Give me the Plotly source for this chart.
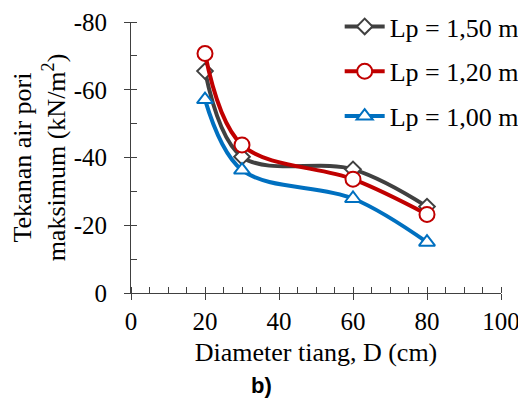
import plotly.graph_objects as go

diameter = [20, 30, 60, 80]
lp150 = [-65.5, -40.2, -36.5, -25.5]
lp120 = [-70.7, -43.7, -33.6, -23.2]
lp100 = [-57.1, -36.3, -27.9, -15.0]

y_ticks = [-80, -60, -40, -20, 0]
y_ticklabels = ["-80", "-60", "-40", "-20", "0"]
x_ticks = [0, 20, 40, 60, 80, 100]

names = ["Lp = 1,50 m", "Lp = 1,20 m", "Lp = 1,00 m"]
colors = ["#404040", "#C00000", "#0070C0"]
symbols = ["diamond", "circle", "triangle-up"]
sizes = [12, 15, 14]
series = [lp150, lp120, lp100]

fig = go.Figure()
for i, (name, vals) in enumerate(zip(names, series)):
    fig.add_trace(go.Scatter(
        x=diameter, y=vals, name=name, mode="lines+markers",
        legendgroup=f"g{i}",
        line=dict(color=colors[i], width=4, shape="spline", smoothing=1.0),
        marker=dict(symbol=symbols[i], size=sizes[i], color="white",
                    line=dict(color=colors[i], width=2)),
    ))

font = "Liberation Serif, Times New Roman, serif"
# page body has an 8px margin, so the figure is drawn at (8, 8)
fig.update_layout(
    width=518, height=393,
    margin=dict(l=123, r=25, t=14, b=108, autoexpand=False),
    paper_bgcolor="white", plot_bgcolor="white",
    font=dict(family=font, size=25, color="black"),
    showlegend=True,
    legend=dict(x=0.564, y=1.07, xanchor="left", yanchor="top",
                font=dict(family=font, size=26), tracegroupgap=8,
                bgcolor="rgba(0,0,0,0)", itemwidth=40),
    xaxis=dict(range=[0, 100], tickvals=x_ticks, automargin=False,
               showline=True, linecolor="#404040", linewidth=1,
               ticks="outside", ticklen=6, tickcolor="#404040",
               minor=dict(dtick=5, ticks="inside", ticklen=6, tickcolor="#404040"),
               showgrid=False, zeroline=False,
               tickfont=dict(family=font, size=25),
               title=dict(text="Diameter tiang, D (cm)", font=dict(family=font, size=26), standoff=8)),
    yaxis=dict(range=[0, -80], tickvals=y_ticks, ticktext=y_ticklabels, automargin=False,
               showline=True, linecolor="#404040", linewidth=1,
               ticks="outside", ticklen=6, tickcolor="#404040", ticklabelstandoff=12,
               minor=dict(dtick=10, ticks="inside", ticklen=6, tickcolor="#404040"),
               showgrid=False, zeroline=False,
               tickfont=dict(family=font, size=25),
               title=dict(text="Tekanan air pori<br>maksimum (kN/m<sup>2</sup>)",
                          font=dict(family=font, size=26), standoff=16)),
    annotations=[dict(text="<b>b)</b>", x=0.354, y=-0.34, xref="paper", yref="paper",
                      xanchor="center", yanchor="middle",
                      showarrow=False, font=dict(family="Liberation Sans, Arial, sans-serif", size=22))],
)

fig.write_html("out.html")
